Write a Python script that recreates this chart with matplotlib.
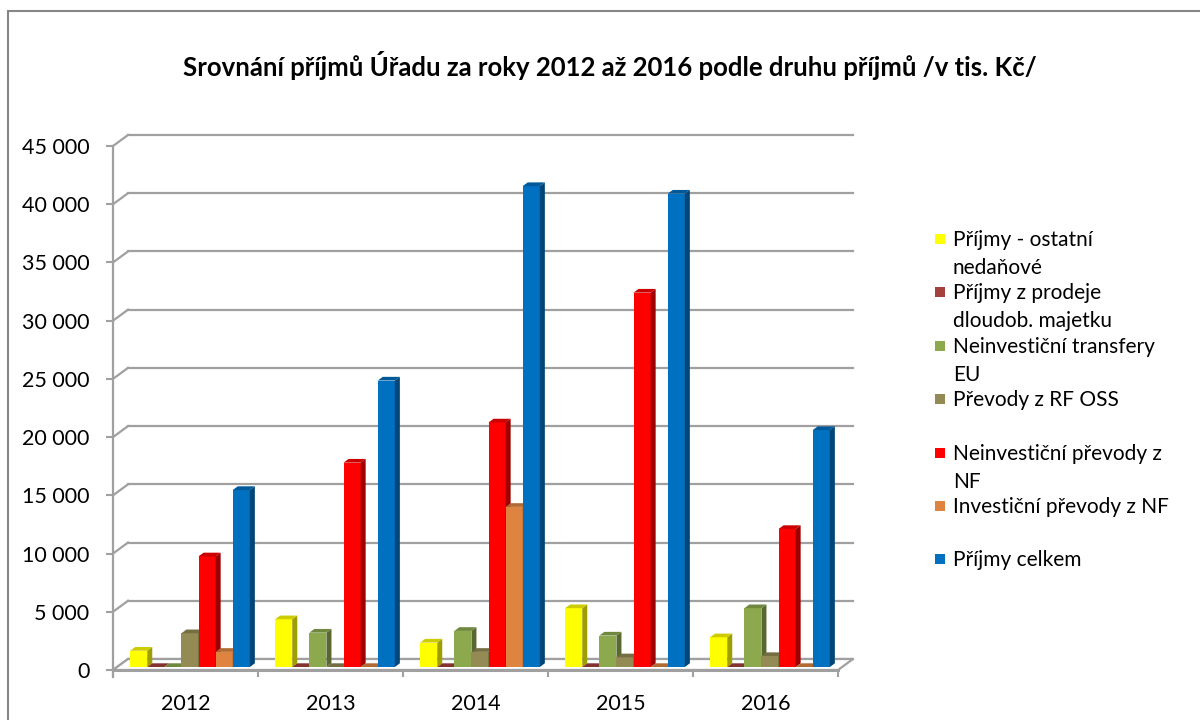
import matplotlib.pyplot as plt
import matplotlib.colors as mcolors
from matplotlib.patches import Polygon, Rectangle
from matplotlib.transforms import offset_copy
import numpy as np

plt.rcParams['font.family'] = ['Lato', 'DejaVu Sans']

years = ['2012', '2013', '2014', '2015', '2016']
series_names = ['Příjmy - ostatní\nnedaňové',
                'Příjmy z prodeje\ndloudob. majetku',
                'Neinvestiční transfery\nEU',
                'Převody z RF OSS',
                'Neinvestiční převody z\nNF',
                'Investiční převody z NF',
                'Příjmy celkem']
ostatni_nedanove = [1400, 4100, 2100, 5050, 2550]
prodej_majetku = [0, 0, 0, 0, 0]
transfery_eu = [0, 2950, 3100, 2700, 5050]
prevody_rf_oss = [2900, 0, 1300, 830, 940]
neinv_prevody_nf = [9500, 17550, 21000, 32150, 11850]
inv_prevody_nf = [1300, 0, 13750, 0, 0]
prijmy_celkem = [15200, 24600, 41300, 40650, 20350]
series_values = [ostatni_nedanove, prodej_majetku, transfery_eu, prevody_rf_oss,
                 neinv_prevody_nf, inv_prevody_nf, prijmy_celkem]
colors = ['#FFFF00', '#A5403D', '#8CA94E', '#948A54', '#FF0000', '#DE8440', '#0070C0']

W, H = 1200, 720
fig = plt.figure(figsize=(12, 7.2), dpi=100)
ax = fig.add_axes([113 / W, 1 - 670 / H, 725 / W, 524 / H])
xmin, xmax, ymax = -0.5, 4.5, 45000
ax.set_xlim(xmin, xmax)
ax.set_ylim(0, ymax)
ux = (xmax - xmin) / 725   # data units per pixel
uy = ymax / 524
grid_c = '#A0A0A0'

# back wall gridlines + left wall diagonals
WX, WY = 15 * ux, 11 * uy
for v in np.arange(0, ymax + 1, 5000):
    ax.plot([xmin + WX, xmax + WX], [v + WY, v + WY], color=grid_c, lw=1.6, clip_on=False, zorder=1)
    ax.plot([xmin, xmin + WX], [v, v + WY], color=grid_c, lw=1.6, clip_on=False, zorder=1)

# floor
floor = Polygon([(xmin, 0), (xmax, 0), (xmax + WX, WY), (xmin + WX, WY)], closed=True,
                facecolor='white', edgecolor=grid_c, lw=1.6, clip_on=False, zorder=1.5)
ax.add_patch(floor)
ax.plot([xmin, xmax], [0, 0], color=grid_c, lw=2.2, clip_on=False, zorder=1.6)
ax.plot([xmin, xmin], [ymax, -7 * uy], color=grid_c, lw=1.6, clip_on=False, zorder=1.6)

# 3D-looking bars
n = len(series_values)
bw = 17.1 / 145
DX, DY = 5 * ux, 3.7 * uy
trans = offset_copy(ax.transData, fig=fig, x=4.5, y=3, units='dots')
x = np.arange(len(years))


def shade(c, f):
    r, g, b = mcolors.to_rgb(c)
    return (r * f, g * f, b * f)


for j, (vals, c) in enumerate(zip(series_values, colors)):
    xs = x + (j - (n - 1) / 2) * bw
    z = 2 + j * 0.01
    ax.bar(xs, vals, width=bw, color=c, transform=trans, zorder=z, label=series_names[j])
    for xc, h in zip(xs, vals):
        l, r = xc - bw / 2, xc + bw / 2
        side = Polygon([(r, 0), (r + DX, DY), (r + DX, h + DY), (r, h)], closed=True,
                       facecolor=shade(c, 0.62), edgecolor='none', transform=trans, zorder=z)
        top = Polygon([(l, h), (r, h), (r + DX, h + DY), (l + DX, h + DY)], closed=True,
                      facecolor=shade(c, 0.8), edgecolor='none', transform=trans, zorder=z)
        ax.add_patch(side)
        ax.add_patch(top)

for s in ax.spines.values():
    s.set_visible(False)
yt = np.arange(0, ymax + 1, 5000)
ax.set_yticks(yt)
ax.set_yticklabels([f'{v:,}'.replace(',', ' ') for v in yt])
ax.tick_params(axis='y', length=5, width=1.5, color=grid_c, pad=12, labelsize=15.5)
ax.set_xticks(x)
ax.set_xticklabels(years)
ax.set_xticks(np.arange(xmin, xmax + 0.1, 1), minor=True)
ax.tick_params(axis='x', which='major', length=0, pad=17, labelsize=15.5)
ax.tick_params(axis='x', which='minor', length=5, width=1.5, color=grid_c)
ax.set_facecolor('none')

fig.text(610 / W, 1 - 65 / H, 'Srovnání příjmů Úřadu za roky 2012 až 2016 podle druhu příjmů /v tis. Kč/',
         ha='center', va='center', fontsize=18.5, fontweight='bold')

# legend
ly0, lstep = 239, 53.4
for j, (name, c) in enumerate(zip(series_names, colors)):
    yc = ly0 + j * lstep
    fig.add_artist(Rectangle((935 / W, 1 - (yc + 5) / H), 10 / W, 10 / H,
                             transform=fig.transFigure, facecolor=c, edgecolor='none'))
    for k, line in enumerate(name.split('\n')):
        fig.text(953 / W, 1 - (yc + 7 + k * 28) / H, line, ha='left', va='baseline', fontsize=15)

# chart border
fig.add_artist(Rectangle((8 / W, -0.1), 1.2, 1 - 11 / H + 0.1, transform=fig.transFigure,
                         fill=False, edgecolor='#868686', lw=1.5))

fig.savefig('out.png', dpi=100)
